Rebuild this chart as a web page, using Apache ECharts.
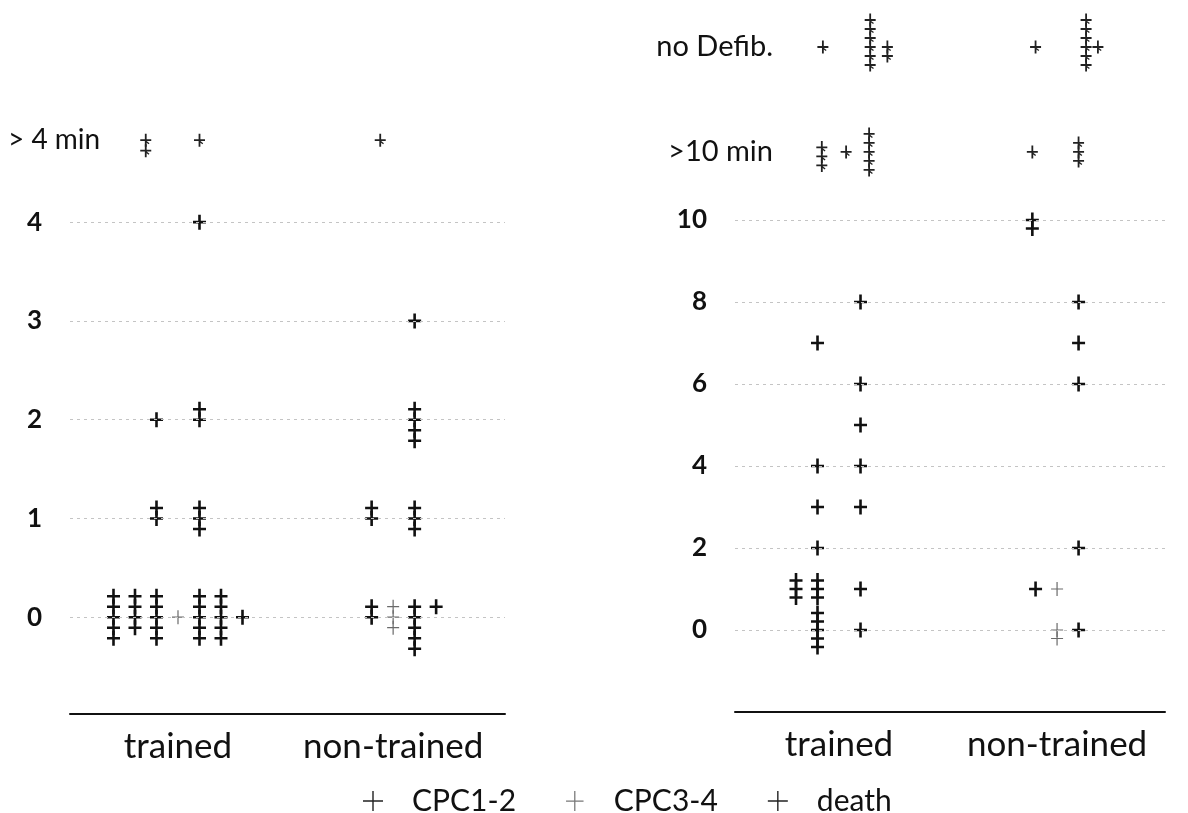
<!DOCTYPE html>
<html>
<head>
<meta charset="utf-8">
<script src="https://cdn.jsdelivr.net/npm/echarts@6/dist/echarts.min.js"></script>
<style>
html,body{margin:0;padding:0;background:#fff;}
#chart{width:1188px;height:813px;}
</style>
</head>
<body>
<div id="chart"></div>
<script>
// ---------- categories & tick labels ----------
const groups = ['trained', 'non-trained'];
const outcomes = ['CPC1-2', 'CPC3-4', 'death'];

// left panel: row positions on the y scale and their labels
const leftTickValues = [0, 1, 2, 3, 4, 4.83];
const leftTickLabels = ['0', '1', '2', '3', '4', '> 4 min'];
const leftGridRows = [0, 1, 2, 3, 4];

// right panel
const rightTickValues = [0, 2, 4, 6, 8, 10, 11.66, 14.22];
const rightTickLabels = ['0', '2', '4', '6', '8', '10', '>10 min', 'no Defib.'];
const rightGridRows = [0, 2, 4, 6, 8, 10];

// ---------- data: [group(1=trained,2=non-trained), row value, count, jitter column, stack start] ----------
const leftCPC12 = [
  [1, 0, 5, -3, -2], [1, 0, 4, -2, -2], [1, 0, 5, -1, -2], [1, 0, 5, 1, -2], [1, 0, 5, 2, -2], [1, 0, 1, 3, 0],
  [1, 1, 2, -1, -1], [1, 1, 3, 1, -1],
  [1, 2, 1, -1, 0], [1, 2, 2, 1, -1],
  [1, 4, 1, 1, 0],
  [2, 0, 2, -1, -1], [2, 0, 5, 1, -1], [2, 0, 1, 2, -1],
  [2, 1, 2, -1, -1], [2, 1, 3, 1, -1],
  [2, 2, 4, 1, -1],
  [2, 3, 1, 1, 0]
];
const leftCPC34 = [
  [1, 0, 1, 0, 0],
  [2, 0, 3, 0, -1]
];
const leftDeath = [
  [1, 4.83, 2, -1.5, 0], [1, 4.83, 1, 1, 0],
  [2, 4.83, 1, -0.6, 0]
];

const rightCPC12 = [
  [1, 0, 5, -1, -2], [1, 0, 1, 1, 0],
  [1, 1, 3, -2, -1], [1, 1, 3, -1, -1], [1, 1, 1, 1, 0],
  [1, 2, 1, -1, 0],
  [1, 3, 1, -1, 0], [1, 3, 1, 1, 0],
  [1, 4, 1, -1, 0], [1, 4, 1, 1, 0],
  [1, 5, 1, 1, 0], [1, 6, 1, 1, 0], [1, 7, 1, -1, 0], [1, 8, 1, 1, 0],
  [2, 0, 1, 1, 0], [2, 1, 1, -1, 0], [2, 2, 1, 1, 0],
  [2, 6, 1, 1, 0], [2, 7, 1, 1, 0], [2, 8, 1, 1, 0],
  [2, 10, 2, -1.15, 0]
];
const rightCPC34 = [
  [2, 0, 2, 0, 0], [2, 1, 1, 0, 0]
];
const rightDeath = [
  [1, 11.66, 3, -0.8, -0.5], [1, 11.66, 1, 0.33, 0], [1, 11.66, 5, 1.4, -2],
  [1, 14.22, 1, -0.75, 0], [1, 14.22, 6, 1.45, -3], [1, 14.22, 2, 2.25, 0],
  [2, 11.66, 1, -1.15, 0], [2, 11.66, 3, 1, -1],
  [2, 14.22, 1, -1, 0], [2, 14.22, 6, 1.35, -3], [2, 14.22, 1, 1.9, 0]
];

// ---------- styles ----------
const FONT = 'Lato, "Open Sans", sans-serif';
const SLOT_PX = 21.5;
const SYM = {
  'CPC1-2': { path: 'path://M0,6.2H13V8.8H0Z M5.2,0H7.8V15H5.2Z', size: [13, 15], color: '#111' },
  'CPC3-4': { path: 'path://M0,6.4H12V7.6H0Z M5.4,0H6.6V14H5.4Z', size: [12, 14], color: '#6a6a6a' },
  'death':  { path: 'path://M0,5.6H11V7.4H0Z M4.6,0H6.4V13H4.6Z M6.4,7.4L9.2,9.6L8.4,10.6L6.4,9Z', size: [11, 13], color: '#222' }
};
const LEGEND_ICON = {
  'CPC1-2': 'path://M0,9.3H20V10.7H0Z M9.3,0H10.7V20H9.3Z',
  'CPC3-4': 'path://M3,9.5H17V10.5H3Z M9.5,2H10.5V18H9.5Z',
  'death':  'path://M0,9.3H20V10.7H0Z M9.3,0H10.7V20H9.3Z'
};

function buildPoints(stacks, pitch) {
  const pts = [];
  stacks.forEach(([g, t, n, slot, start]) => {
    for (let i = 0; i < n; i++) {
      pts.push({ value: [g, t], symbolOffset: [slot * SLOT_PX, (start + i) * pitch] });
    }
  });
  return pts;
}

function scatter(name, stacks, pitch, idx, gridRows) {
  const s = SYM[name];
  const ser = {
    name: name,
    type: 'scatter',
    xAxisIndex: idx,
    yAxisIndex: idx,
    symbol: s.path,
    symbolSize: s.size,
    itemStyle: { color: s.color, opacity: 1 },
    silent: true,
    data: buildPoints(stacks, pitch)
  };
  if (gridRows) {
    ser.markLine = {
      silent: true,
      symbol: 'none',
      label: { show: false },
      lineStyle: { color: '#c4c4c4', type: [3, 4], width: 1 },
      data: gridRows.map(v => ({ yAxis: v }))
    };
  }
  return ser;
}

function labelFor(values, labels, v) {
  let best = 0, d = Infinity;
  values.forEach((x, i) => { if (Math.abs(x - v) < d) { d = Math.abs(x - v); best = i; } });
  return labels[best];
}

const chart = echarts.init(document.getElementById('chart'), null, { renderer: 'canvas' });

const xAxisCommon = {
  type: 'value',
  axisLine: { show: true, onZero: false, lineStyle: { color: '#111', width: 2 } },
  axisTick: { show: false },
  splitLine: { show: false },
  axisLabel: {
    customValues: [1, 2],
    formatter: v => groups[Math.round(v) - 1],
    fontSize: 35, fontFamily: FONT, color: '#111', margin: 15
  }
};

const option = {
  animation: false,
  backgroundColor: '#fff',
  grid: [
    { left: 70, right: 683, top: 74, height: 640 },
    { left: 735, right: 23, top: 15, height: 697 }
  ],
  xAxis: [
    Object.assign({}, xAxisCommon, { gridIndex: 0, min: 0.498, max: 2.52 }),
    Object.assign({}, xAxisCommon, { gridIndex: 1, min: 0.523, max: 2.495 })
  ],
  yAxis: [
    {
      gridIndex: 0, type: 'value', min: -0.98, max: 5.5,
      axisLine: { show: false, onZero: false }, axisTick: { show: false }, splitLine: { show: false },
      axisLabel: {
        customValues: leftTickValues,
        align: 'left', margin: 62,
        formatter: v => {
          const l = labelFor(leftTickValues, leftTickLabels, v);
          return l.length > 2 ? '{t|' + l + '}' : '{d|' + l + '}';
        },
        rich: {
          t: { fontSize: 28, fontFamily: FONT, color: '#111' },
          d: { fontSize: 26, fontFamily: FONT, fontWeight: 'bold', color: '#111', padding: [0, 0, 0, 19] }
        }
      }
    },
    {
      gridIndex: 1, type: 'value', min: -2, max: 15,
      axisLine: { show: false, onZero: false }, axisTick: { show: false }, splitLine: { show: false },
      axisLabel: {
        customValues: rightTickValues,
        align: 'right', margin: -38,
        formatter: v => {
          const l = labelFor(rightTickValues, rightTickLabels, v);
          return l.length > 2 ? '{t|' + l + '}' : '{d|' + l + '}';
        },
        rich: {
          t: { fontSize: 29, fontFamily: FONT, color: '#111' },
          d: { fontSize: 26, fontFamily: FONT, fontWeight: 'bold', color: '#111', padding: [0, 66, 0, 0] }
        }
      }
    }
  ],
  legend: {
    left: 358, top: 781,
    itemWidth: 20, itemHeight: 20, itemGap: 50,
    selectedMode: false,
    data: outcomes.map(n => ({
      name: n,
      icon: LEGEND_ICON[n],
      itemStyle: { color: n === 'CPC3-4' ? '#777' : '#222' }
    })),
    formatter: n => '{n|' + n + '}',
    textStyle: {
      rich: { n: { fontSize: 30, fontFamily: FONT, color: '#111', padding: [0, 0, 0, 24], lineHeight: 32 } }
    }
  },
  series: [
    scatter('CPC1-2', leftCPC12, 10.5, 0, leftGridRows),
    scatter('CPC3-4', leftCPC34, 10.5, 0),
    scatter('death', leftDeath, 10.5, 0),
    scatter('CPC1-2', rightCPC12, 8.5, 1, rightGridRows),
    scatter('CPC3-4', rightCPC34, 8.5, 1),
    scatter('death', rightDeath, 9, 1)
  ]
};
chart.setOption(option);
</script>
</body>
</html>
